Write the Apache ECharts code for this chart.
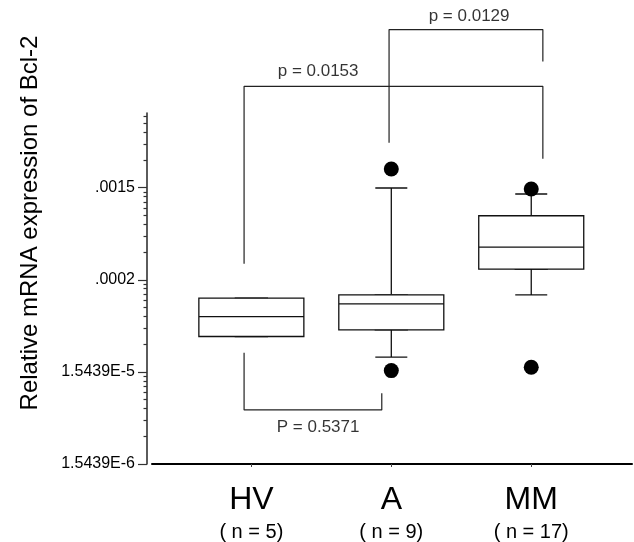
<!DOCTYPE html>
<html>
<head>
<meta charset="utf-8">
<script src="https://cdn.jsdelivr.net/npm/echarts@6/dist/echarts.min.js"></script>
<style>
  html, body { margin: 0; padding: 0; background: #fff; }
  #chart { width: 634px; height: 542px; }
</style>
</head>
<body>
<div id="chart"></div>
<script>
// groups and their sizes
const categories  = ['HV', 'A', 'MM']
const sampleSizes = ['( n = 5)', '( n = 9)', '( n = 17)']

// box statistics per group
const boxMin    = [3.74e-5, 2.23e-5, 1.061e-4]
const boxQ1     = [3.74e-5, 4.42e-5, 2.02e-4]
const boxMedian = [6.16e-5, 8.46e-5, 3.50e-4]
const boxQ3     = [9.76e-5, 1.061e-4, 7.66e-4]
const boxMax    = [9.76e-5, 1.533e-3, 1.32e-3]

// outliers (group index, value)
const outlierGroup = [1, 1, 2, 2]
const outlierValue = [2.464e-3, 1.595e-5, 1.494e-3, 1.737e-5]

// y axis ticks
const yTickValues = [1.5439e-6, 1.5439e-5, 1.5439e-4, 1.5439e-3]
const yTickLabels = ['1.5439E-6', '1.5439E-5', '.0002', '.0015']
const minorMultipliers = [2, 3, 4, 5, 6, 7, 8, 9]
const yMin = 1.5439e-6
const yMax = 0.01

// significance brackets (x in group units, y in data units)
const bracketHvMm = [[-0.052, 2.305e-4], [-0.052, 0.01949], [2.083, 0.01949], [2.083, 3.19e-3]]
const bracketAMm  = [[0.984, 4.763e-3], [0.984, 0.0805], [2.083, 0.0805], [2.083, 0.0362]]
const bracketHvA  = [[-0.052, 2.50e-5], [-0.052, 5.97e-6], [0.932, 5.97e-6], [0.932, 9.06e-6]]
const pLabels = ['p = 0.0129', 'p = 0.0153', 'P = 0.5371']
const pX      = [1.556, 0.477, 0.477]
const pY      = [0.1116, 0.02816, 3.9e-6]

const FONT = 'Liberation Sans, Arial, Helvetica, sans-serif'

const minorTicks = []
yTickValues.forEach(t => minorMultipliers.forEach(m => {
  if (t * m < yMax) minorTicks.push(t * m)
}))

// wide box (Q1..Q3) and narrow whiskers are two boxplot series
const whiskerData = categories.map((c, i) => [i, boxMin[i], boxQ1[i], boxMedian[i], boxQ3[i], boxMax[i]])
const boxData     = categories.map((c, i) => [i, boxQ1[i], boxQ1[i], boxMedian[i], boxQ3[i], boxQ3[i]])

function tickLabel(val) {
  const i = yTickValues.findIndex(t => Math.abs(Math.log10(t) - Math.log10(val)) < 0.01)
  return i >= 0 ? yTickLabels[i] : ''
}

const xAxisBase = {
  type: 'value',
  min: -0.71,
  max: 2.72,
  splitLine: { show: false },
}

function bracketSeries(data) {
  return {
    type: 'line',
    xAxisIndex: 0,
    yAxisIndex: 0,
    data,
    symbol: 'none',
    clip: false,
    silent: true,
    lineStyle: { color: '#222', width: 1.2 },
    z: 5,
  }
}

const chart = echarts.init(document.getElementById('chart'))
chart.setOption({
  animation: false,
  grid: { left: 152, top: 113, width: 480, height: 351 },
  xAxis: [
    Object.assign({}, xAxisBase, {
      position: 'bottom',
      axisLine: { onZero: false, lineStyle: { color: '#000', width: 2 } },
      axisTick: { customValues: [0, 1, 2], length: 3, lineStyle: { color: '#444' } },
      axisLabel: {
        customValues: [0, 1, 2],
        margin: 19,
        formatter: v => {
          const i = Math.round(v)
          return '{a|' + categories[i] + '}\n{b|' + sampleSizes[i] + '}'
        },
        rich: {
          a: { fontFamily: FONT, fontSize: 32, lineHeight: 34, color: '#000' },
          b: { fontFamily: FONT, fontSize: 20, lineHeight: 30, color: '#000' },
        },
      },
    }),
    Object.assign({}, xAxisBase, { show: false, position: 'bottom' }),
  ],
  yAxis: [
    {
      type: 'log',
      min: yMin,
      max: yMax,
      position: 'left',
      offset: 5,
      splitLine: { show: false },
      axisLine: { show: true, onZero: false, lineStyle: { color: '#333', width: 1.6 } },
      axisTick: { customValues: yTickValues, length: 9, lineStyle: { color: '#333', width: 1.2 } },
      axisLabel: {
        customValues: yTickValues,
        formatter: tickLabel,
        margin: 12,
        fontFamily: FONT,
        fontSize: 16,
        color: '#000',
      },
    },
    {
      type: 'log',
      min: yMin,
      max: yMax,
      position: 'left',
      offset: 5,
      splitLine: { show: false },
      axisLine: { show: false, onZero: false },
      axisTick: { customValues: minorTicks, length: 3.5, lineStyle: { color: '#333', width: 1.2 } },
      axisLabel: { show: false },
    },
  ],
  graphic: [{
    type: 'text',
    x: 30,
    y: 223,
    rotation: Math.PI / 2,
    style: {
      text: 'Relative mRNA expression of Bcl-2',
      font: '24px ' + FONT,
      fill: '#000',
      align: 'center',
      verticalAlign: 'middle',
    },
  }],
  series: [
    {
      type: 'boxplot',
      xAxisIndex: 0,
      yAxisIndex: 0,
      data: whiskerData,
      boxWidth: [32, 32],
      silent: true,
      itemStyle: { color: '#fff', borderColor: '#111', borderWidth: 1.3 },
      z: 2,
    },
    {
      type: 'boxplot',
      xAxisIndex: 1,
      yAxisIndex: 0,
      data: boxData,
      boxWidth: [105, 105],
      silent: true,
      itemStyle: { color: '#fff', borderColor: '#111', borderWidth: 1.3 },
      z: 3,
    },
    {
      type: 'scatter',
      xAxisIndex: 0,
      yAxisIndex: 0,
      data: outlierGroup.map((g, i) => [g, outlierValue[i]]),
      symbol: 'circle',
      symbolSize: 15,
      silent: true,
      clip: false,
      itemStyle: { color: '#000', opacity: 1 },
      z: 6,
    },
    bracketSeries(bracketHvMm),
    bracketSeries(bracketAMm),
    bracketSeries(bracketHvA),
    {
      type: 'scatter',
      xAxisIndex: 0,
      yAxisIndex: 0,
      data: pLabels.map((t, i) => ({ name: t, value: [pX[i], pY[i]] })),
      symbolSize: 0,
      clip: false,
      silent: true,
      label: {
        show: true,
        position: 'inside',
        formatter: '{b}',
        fontFamily: FONT,
        fontSize: 17,
        color: '#000',
      },
      z: 7,
    },
  ],
})
</script>
</body>
</html>
